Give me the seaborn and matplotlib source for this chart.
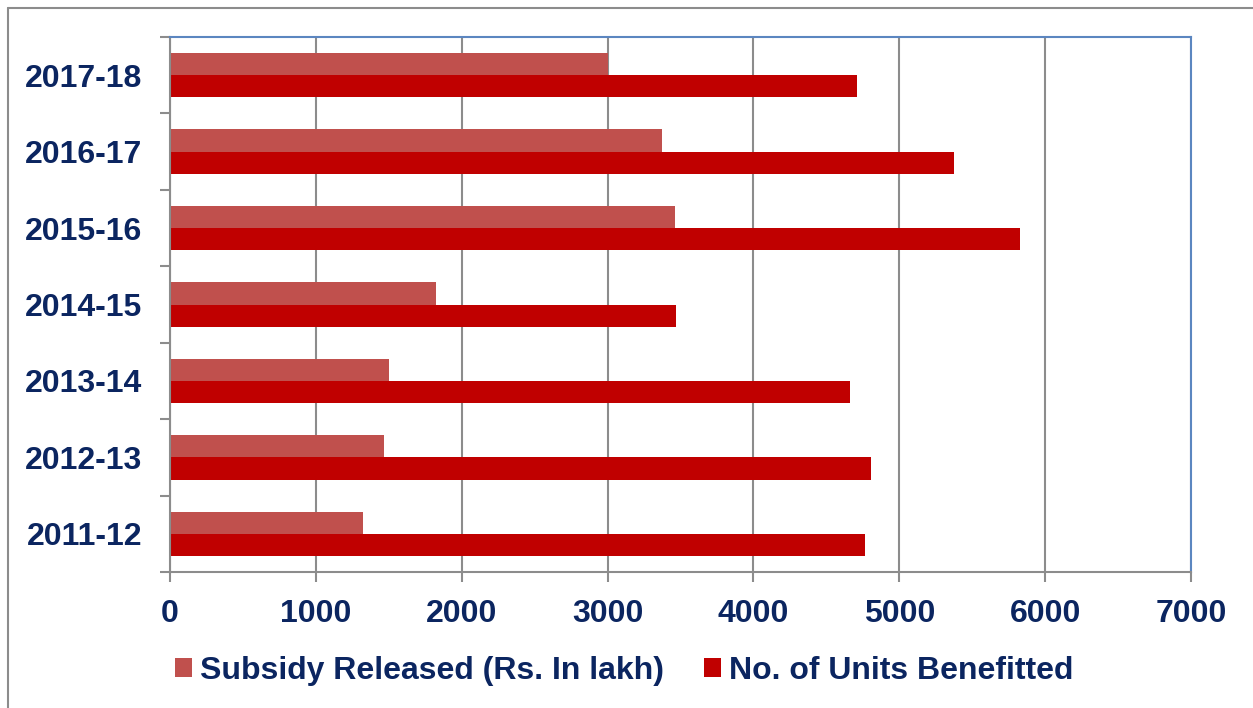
import pandas as pd
import matplotlib.pyplot as plt
import seaborn as sns
from matplotlib.patches import Patch
from matplotlib.lines import Line2D

years = ["2017-18", "2016-17", "2015-16", "2014-15", "2013-14", "2012-13", "2011-12"]
subsidy = [3000, 3375, 3465, 1822, 1503, 1465, 1320]
units = [4711, 5374, 5828, 3468, 4660, 4806, 4763]
series = ["Subsidy Released (Rs. In lakh)", "No. of Units Benefitted"]
colors = ["#C0504D", "#C00000"]
xticks = [0, 1000, 2000, 3000, 4000, 5000, 6000, 7000]

df = pd.DataFrame({
    "year": years * 2,
    "value": subsidy + units,
    "series": [series[0]] * len(years) + [series[1]] * len(years),
})

sns.set_style("white")
plt.rcParams["font.family"] = ["Liberation Sans", "DejaVu Sans"]
text_color = "#0B2560"
fs = 23

fig = plt.figure(figsize=(12.53, 7.08), dpi=100)
ax = fig.add_axes([170 / 1253, 1 - 572 / 708, (1191 - 170) / 1253, (572 - 37) / 708])

sns.barplot(data=df, x="value", y="year", hue="series", order=years, hue_order=series,
            palette=colors, orient="h", width=0.58, gap=0, saturation=1, ax=ax,
            legend=False, edgecolor="none")

ax.set_xlim(0, 7000)
ax.set_ylim(6.5, -0.5)
ax.set_xticks(xticks)
ax.set_xticklabels([str(t) for t in xticks])
ax.set_xlabel("")
ax.set_ylabel("")
ax.grid(axis="x", color="#8c8c8c", linewidth=1.5)
ax.grid(axis="y", visible=False)
ax.set_axisbelow(True)

# spines
for s in ["left", "bottom"]:
    ax.spines[s].set_color("#8c8c8c")
    ax.spines[s].set_linewidth(1.5)
for s in ["top", "right"]:
    ax.spines[s].set_color("#5B86C0")
    ax.spines[s].set_linewidth(1.5)

# y ticks: labels at centres, tick marks at boundaries
ax.set_yticks([i - 0.5 for i in range(len(years) + 1)], minor=True)
ax.tick_params(axis="y", which="major", length=0, pad=20, labelsize=fs,
               labelcolor=text_color)
ax.tick_params(axis="y", which="minor", length=7.5, width=1.5, color="#8c8c8c",
               direction="out", left=True)
ax.tick_params(axis="x", which="major", length=7.5, width=1.5, color="#8c8c8c",
               direction="out", bottom=True, pad=12, labelsize=fs, labelcolor=text_color)
for lbl in ax.get_yticklabels() + ax.get_xticklabels():
    lbl.set_fontweight("bold")

handles = [Patch(facecolor=c, edgecolor="none") for c in colors]
leg = fig.legend(handles, series, loc="center left", bbox_to_anchor=(146 / 1253, 1 - 671 / 708),
                 ncol=2, frameon=False, handlelength=0.53, handleheight=0.53,
                 handletextpad=0.25, columnspacing=1.25,
                 prop={"size": fs, "weight": "bold"})
for t in leg.get_texts():
    t.set_color(text_color)

# outer chart frame
fig.add_artist(Line2D([8 / 1253, 8 / 1253], [0, 1 - 8 / 708], transform=fig.transFigure,
                      color="#8c8c8c", linewidth=1.5))
fig.add_artist(Line2D([8 / 1253, 1], [1 - 8 / 708, 1 - 8 / 708], transform=fig.transFigure,
                      color="#8c8c8c", linewidth=1.5))

fig.savefig("out.png", dpi=100)
